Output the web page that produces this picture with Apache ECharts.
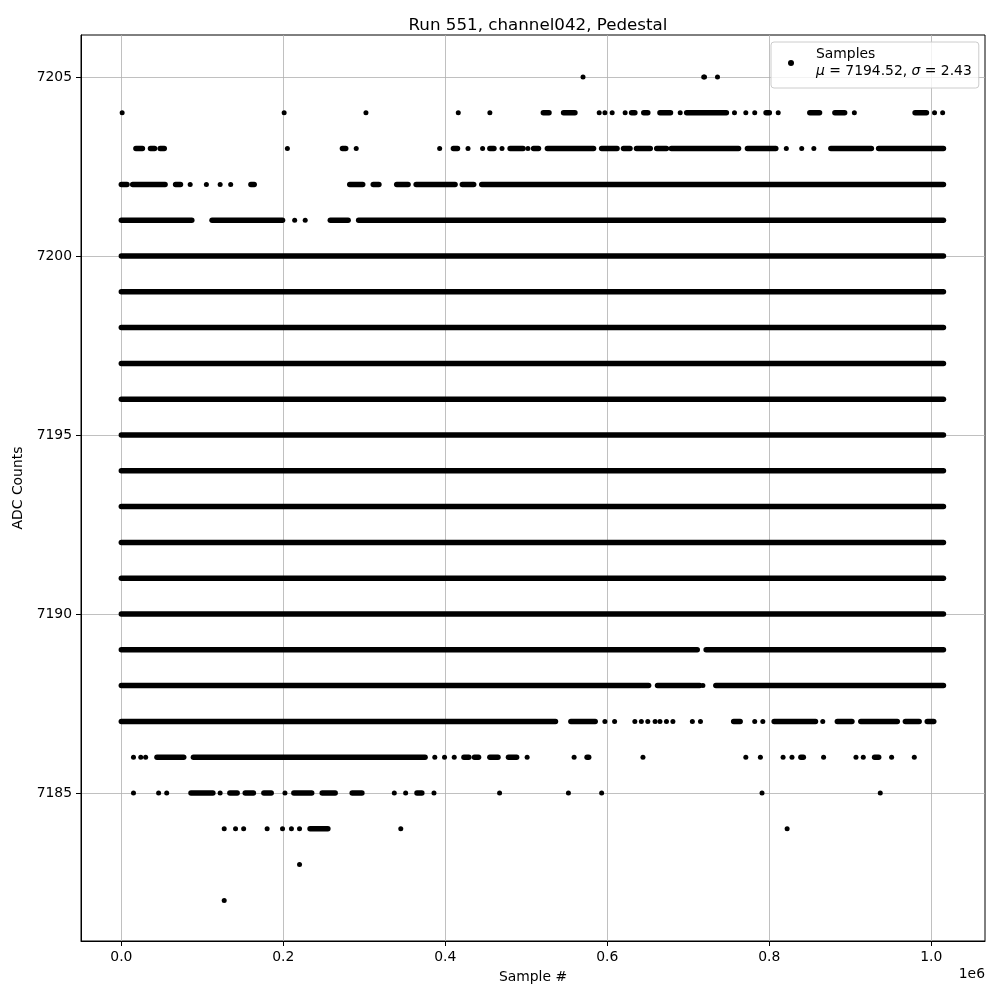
<!DOCTYPE html>
<html><head><meta charset="utf-8">
<script src="https://cdn.jsdelivr.net/npm/echarts@6/dist/echarts.min.js"></script>
<style>html,body{margin:0;padding:0;background:#fff}#c{width:1000px;height:1000px}</style>
</head><body><div id="c"></div>
<script>
// x values are sample numbers in units of 1e6 (axis offset "1e6")
const dots7205 = [0.570, 0.719, 0.720, 0.736];
const runs7205 = [];
const dots7204 = [0.001, 0.201, 0.302, 0.416, 0.455, 0.590, 0.597, 0.606, 0.622, 0.690, 0.757, 0.771, 0.782, 0.811, 0.905, 1.004, 1.014];
const runs7204 = [[0.521,0.528],[0.546,0.560],[0.630,0.634],[0.645,0.650],[0.665,0.678],[0.698,0.747],[0.796,0.800],[0.850,0.862],[0.881,0.893],[0.980,0.994]];
const dots7203 = [0.205, 0.290, 0.393, 0.428, 0.446, 0.470, 0.502, 0.821, 0.840, 0.855];
const runs7203 = [[0.018,0.026],[0.036,0.041],[0.048,0.053],[0.273,0.277],[0.410,0.415],[0.455,0.460],[0.480,0.496],[0.509,0.515],[0.526,0.583],[0.593,0.612],[0.620,0.628],[0.636,0.653],[0.661,0.673],[0.679,0.762],[0.773,0.808],[0.876,0.926],[0.935,1.015]];
const dots7202 = [0.085, 0.105, 0.122, 0.135];
const runs7202 = [[0.000,0.007],[0.014,0.054],[0.067,0.073],[0.160,0.164],[0.282,0.298],[0.311,0.318],[0.340,0.354],[0.364,0.412],[0.421,0.435],[0.445,1.015]];
const dots7201 = [0.214, 0.227];
const runs7201 = [[0.000,0.087],[0.112,0.199],[0.258,0.280],[0.293,1.015]];
const runs7200 = [[0.000,1.015]];
const runs7199 = [[0.000,1.015]];
const runs7198 = [[0.000,1.015]];
const runs7197 = [[0.000,1.015]];
const runs7196 = [[0.000,1.015]];
const runs7195 = [[0.000,1.015]];
const runs7194 = [[0.000,1.015]];
const runs7193 = [[0.000,1.015]];
const runs7192 = [[0.000,1.015]];
const runs7191 = [[0.000,1.015]];
const runs7190 = [[0.000,1.015]];
const runs7189 = [[0.000,0.711],[0.722,1.015]];
const dots7188 = [0.718];
const runs7188 = [[0.000,0.651],[0.662,0.714],[0.734,1.015]];
const dots7187 = [0.597, 0.609, 0.634, 0.642, 0.650, 0.659, 0.665, 0.673, 0.681, 0.705, 0.715, 0.782, 0.792, 0.866];
const runs7187 = [[0.000,0.536],[0.555,0.585],[0.756,0.764],[0.806,0.857],[0.884,0.902],[0.913,0.958],[0.968,0.985],[0.995,1.003]];
const dots7186 = [0.015, 0.024, 0.030, 0.387, 0.399, 0.411, 0.501, 0.559, 0.644, 0.771, 0.789, 0.817, 0.828, 0.867, 0.907, 0.916, 0.951, 0.979];
const runs7186 = [[0.044,0.077],[0.089,0.375],[0.423,0.429],[0.436,0.441],[0.455,0.465],[0.478,0.488],[0.575,0.577],[0.839,0.842],[0.930,0.935]];
const dots7185 = [0.015, 0.046, 0.056, 0.122, 0.202, 0.337, 0.351, 0.386, 0.467, 0.552, 0.593, 0.791, 0.937];
const runs7185 = [[0.086,0.113],[0.134,0.143],[0.153,0.163],[0.176,0.185],[0.213,0.235],[0.248,0.264],[0.285,0.297],[0.365,0.371]];
const dots7184 = [0.127, 0.141, 0.151, 0.180, 0.199, 0.210, 0.220, 0.345, 0.822];
const runs7184 = [[0.233,0.255]];
const dots7183 = [0.220];
const dots7182 = [0.127];

const rows = [
  [7205, dots7205, runs7205], [7204, dots7204, runs7204], [7203, dots7203, runs7203],
  [7202, dots7202, runs7202], [7201, dots7201, runs7201], [7200, [], runs7200],
  [7199, [], runs7199], [7198, [], runs7198], [7197, [], runs7197], [7196, [], runs7196],
  [7195, [], runs7195], [7194, [], runs7194], [7193, [], runs7193], [7192, [], runs7192],
  [7191, [], runs7191], [7190, [], runs7190], [7189, [], runs7189], [7188, dots7188, runs7188],
  [7187, dots7187, runs7187], [7186, dots7186, runs7186], [7185, dots7185, runs7185],
  [7184, dots7184, runs7184], [7183, dots7183, []], [7182, dots7182, []]
];

const xTicks = [0.0, 0.2, 0.4, 0.6, 0.8, 1.0];
const yTicks = [7185, 7190, 7195, 7200, 7205];
const titleText = 'Run 551, channel042, Pedestal';
const xName = 'Sample #';
const yName = 'ADC Counts';
const legendName = 'Samples';
const meanVal = '7194.52';
const sigmaVal = '2.43';

const dotData = [];
const runData = [];
rows.forEach(([y, d, r]) => {
  d.forEach(x => dotData.push([x, y]));
  r.forEach(([a, b]) => runData.push([a, b, y]));
});

const FONT = 'DejaVu Sans';
const chart = echarts.init(document.getElementById('c'), null, {renderer: 'canvas'});
chart.setOption({
  animation: false,
  backgroundColor: '#fff',
  title: {
    text: titleText, left: 533, top: 12, textAlign: 'center',
    textStyle: {fontFamily: FONT, fontSize: 16.7, fontWeight: 'normal', color: '#000'}
  },
  grid: {left: 81, right: 15, top: 35, bottom: 59, show: true, borderColor: '#000', borderWidth: 1},
  xAxis: {
    type: 'value', min: -0.0498, max: 1.0663,
    name: xName, nameLocation: 'middle', nameGap: 29,
    nameTextStyle: {fontFamily: FONT, fontSize: 13.9, color: '#000'},
    axisLine: {show: true, onZero: false, lineStyle: {color: '#000', width: 1}},
    axisTick: {show: true, length: 5, customValues: xTicks, lineStyle: {color: '#000', width: 1}},
    axisLabel: {customValues: xTicks, formatter: v => v.toFixed(1), margin: 9, fontFamily: FONT, fontSize: 13.9, color: '#000'},
    splitLine: {show: true, lineStyle: {color: '#b0b0b0', width: 0.8}}
  },
  yAxis: {
    type: 'value', min: 7180.866, max: 7206.173,
    name: yName, nameLocation: 'middle', nameGap: 43, nameRotate: 90,
    nameTextStyle: {fontFamily: FONT, fontSize: 13.9, color: '#000'},
    axisLine: {show: true, onZero: false, lineStyle: {color: '#000', width: 1}},
    axisTick: {show: true, length: 5, customValues: yTicks, lineStyle: {color: '#000', width: 1}},
    axisLabel: {customValues: yTicks, formatter: v => String(Math.round(v)), margin: 9, fontFamily: FONT, fontSize: 13.9, color: '#000'},
    splitLine: {show: true, lineStyle: {color: '#b0b0b0', width: 0.8}}
  },
  legend: {
    data: [{name: legendName, icon: 'circle'}],
    left: 771, top: 42, orient: 'vertical',
    itemWidth: 40, itemHeight: 6, itemGap: 0,
    padding: [4, 7, 8, 17],
    backgroundColor: 'rgba(255,255,255,0.8)', borderColor: '#cccccc', borderWidth: 1, borderRadius: 3,
    selectedMode: false,
    itemStyle: {color: '#000', opacity: 1},
    formatter: () => legendName + '\n{i|μ} = ' + meanVal + ', {i|σ} = ' + sigmaVal,
    textStyle: {
      fontFamily: FONT, fontSize: 13.9, color: '#000', lineHeight: 17,
      rich: {i: {fontFamily: FONT, fontStyle: 'italic', fontSize: 13.9, color: '#000', lineHeight: 17}}
    }
  },
  graphic: [{
    type: 'text', right: 15, top: 967,
    style: {text: '1e6', font: '13.9px "DejaVu Sans"', fill: '#000'}
  }],
  series: [
    {
      name: 'runs', type: 'custom', data: runData,
      encode: {x: [0, 1], y: 2},
      renderItem: (params, api) => {
        const p0 = api.coord([api.value(0), api.value(2)]);
        const p1 = api.coord([api.value(1), api.value(2)]);
        return {
          type: 'line',
          shape: {x1: p0[0], y1: p0[1], x2: p1[0], y2: p1[1]},
          style: {stroke: '#000', lineWidth: 5.5, lineCap: 'round'}
        };
      }
    },
    {
      name: legendName, type: 'scatter', data: dotData,
      symbol: 'circle', symbolSize: 5,
      itemStyle: {color: '#000', opacity: 1}
    }
  ]
});
</script>
</body></html>
